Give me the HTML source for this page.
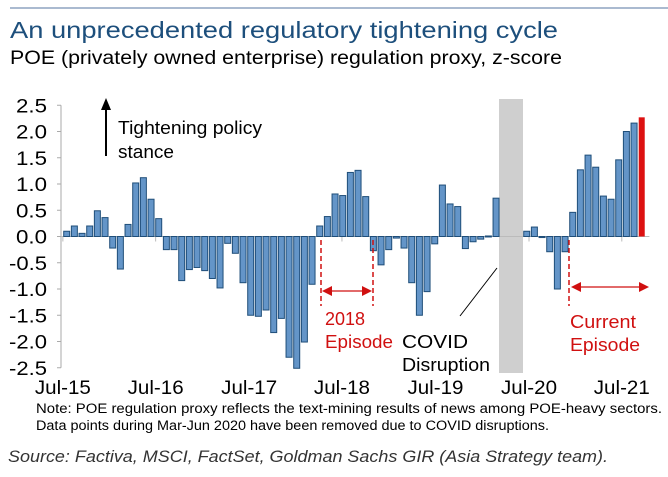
<!DOCTYPE html>
<html><head><meta charset="utf-8"><style>
body{margin:0;background:#fff;width:668px;height:472px;overflow:hidden;font-family:"Liberation Sans",Arial,sans-serif}
</style></head><body>
<svg width="668" height="472" xmlns="http://www.w3.org/2000/svg" font-family="Liberation Sans, Arial, sans-serif">
<line x1="10" y1="8" x2="668" y2="8" stroke="#8da3c0" stroke-width="1.5"/>
<text x="10" y="38" font-size="23" fill="#1d4f7c" textLength="548" lengthAdjust="spacingAndGlyphs">An unprecedented regulatory tightening cycle</text>
<text x="10" y="64" font-size="19" fill="#000" textLength="552" lengthAdjust="spacingAndGlyphs">POE (privately owned enterprise) regulation proxy, z-score</text>
<rect x="499" y="99" width="24" height="274" fill="#cfcfcf"/>
<g id="yaxis"></g>
<g id="xaxis"></g>
<g id="bars"></g>
<g>
<line x1="106" y1="156" x2="106" y2="108" stroke="#000" stroke-width="2"/>
<polygon points="106,98 101,110 111,110" fill="#000"/>
<text x="118" y="134" font-size="18" textLength="144" lengthAdjust="spacingAndGlyphs">Tightening policy</text>
<text x="118" y="158" font-size="18" textLength="56" lengthAdjust="spacingAndGlyphs">stance</text>
</g>
<g stroke="#d01010">
<line x1="321" y1="240" x2="321" y2="306" stroke-dasharray="5,3" stroke-width="1.5"/>
<line x1="373" y1="240" x2="373" y2="306" stroke-dasharray="5,3" stroke-width="1.5"/>
<line x1="330" y1="291" x2="364" y2="291" stroke-width="1.2"/>
<polygon points="322,291 332,286 332,296" fill="#d01010" stroke="none"/>
<polygon points="372,291 362,286 362,296" fill="#d01010" stroke="none"/>
<text x="325" y="325" font-size="18" fill="#d01010" stroke="none">2018</text>
<text x="325" y="348" font-size="18" fill="#d01010" stroke="none" textLength="68" lengthAdjust="spacingAndGlyphs">Episode</text>
</g>
<g>
<line x1="460" y1="316" x2="497" y2="268" stroke="#000" stroke-width="1"/>
<text x="402" y="348" font-size="18" textLength="66" lengthAdjust="spacingAndGlyphs">COVID</text>
<text x="402" y="371" font-size="18" textLength="88" lengthAdjust="spacingAndGlyphs">Disruption</text>
</g>
<g stroke="#d01010">
<line x1="569" y1="240" x2="569" y2="306" stroke-dasharray="5,3" stroke-width="1.5"/>
<line x1="580" y1="287" x2="640" y2="287" stroke-width="1.2"/>
<polygon points="571,287 581,282 581,292" fill="#d01010" stroke="none"/>
<polygon points="649,287 639,282 639,292" fill="#d01010" stroke="none"/>
<text x="570" y="328" font-size="18" fill="#d01010" stroke="none" textLength="66" lengthAdjust="spacingAndGlyphs">Current</text>
<text x="570" y="351" font-size="18" fill="#d01010" stroke="none" textLength="70" lengthAdjust="spacingAndGlyphs">Episode</text>
</g>
<text x="36" y="413" font-size="13.5" textLength="626" lengthAdjust="spacingAndGlyphs">Note: POE regulation proxy reflects the text-mining results of news among POE-heavy sectors.</text>
<text x="36" y="430" font-size="13.5" textLength="513" lengthAdjust="spacingAndGlyphs">Data points during Mar-Jun 2020 have been removed due to COVID disruptions.</text>
<text x="8" y="462" font-size="17" font-style="italic" fill="#333" textLength="600" lengthAdjust="spacingAndGlyphs">Source: Factiva, MSCI, FactSet, Goldman Sachs GIR (Asia Strategy team).</text>
</svg>
<script>
const values=[0.1,0.2,0.06,0.2,0.49,0.36,-0.22,-0.62,0.23,1.02,1.12,0.71,0.34,-0.25,-0.25,-0.84,-0.63,-0.59,-0.65,-0.8,-0.98,-0.13,-0.32,-0.88,-1.5,-1.52,-1.4,-1.83,-1.56,-2.3,-2.51,-2.01,-0.91,0.2,0.38,0.81,0.78,1.22,1.26,0.76,-0.27,-0.54,-0.25,-0.03,-0.22,-0.88,-1.5,-1.05,-0.14,0.98,0.62,0.57,-0.23,-0.1,-0.05,0.01,0.73,null,null,null,0.1,0.18,-0.02,-0.29,-1.0,-0.29,0.46,1.27,1.55,1.32,0.77,0.71,1.46,2.0,2.16,2.27];
const yTicks=[2.5,2.0,1.5,1.0,0.5,0.0,-0.5,-1.0,-1.5,-2.0,-2.5];
const xLabels=["Jul-15","Jul-16","Jul-17","Jul-18","Jul-19","Jul-20","Jul-21"];
const xLabelIdx=[-0.5,11.6,23.8,35.9,48.1,60.3,72.4];
const NS="http://www.w3.org/2000/svg";
const y0=236.5,ppu=52.5,x0=66.7,step=7.667;
const Y=v=>y0-v*ppu, X=i=>x0+i*step;
function mk(t,a,p){const e=document.createElementNS(NS,t);for(const k in a)e.setAttribute(k,a[k]);p.appendChild(e);return e;}
const ya=document.getElementById('yaxis');
mk('line',{x1:61,y1:Y(2.5),x2:61,y2:Y(-2.5),stroke:'#aaa'},ya);
yTicks.forEach(v=>{
 mk('line',{x1:57,y1:Y(v),x2:61,y2:Y(v),stroke:'#aaa'},ya);
 const t=mk('text',{x:47,y:Y(v)+7,'font-size':19,'text-anchor':'end',textLength:(v<0?38:31),lengthAdjust:'spacingAndGlyphs'},ya);
 t.textContent=v.toFixed(1);
 
 
});
const xa=document.getElementById('xaxis');
mk('line',{x1:61,y1:Y(0),x2:X(values.length),y2:Y(0),stroke:'#bbb'},xa);
xLabels.forEach((l,i)=>{
 const x=X(xLabelIdx[i]);
 mk('line',{x1:x,y1:Y(0),x2:x,y2:Y(0)+5,stroke:'#bbb'},xa);
 const t=mk('text',{x:x-28,y:394,'font-size':19,textLength:56,lengthAdjust:'spacingAndGlyphs'},xa);
 t.textContent=l;
 
 
});
const bg=document.getElementById('bars');
values.forEach((v,i)=>{
 if(v===null)return;
 const last=i===values.length-1;
 const top=Math.min(Y(v),Y(0)),h=Math.max(Math.abs(Y(v)-Y(0)),1);
 const r=mk('rect',{x:X(i)-3,y:top,width:6,height:h,fill:last?'#dd1111':'#6495c8',stroke:last?'none':'#1f4e79','stroke-width':1},bg);
 
 
});
</script>
</body></html>
